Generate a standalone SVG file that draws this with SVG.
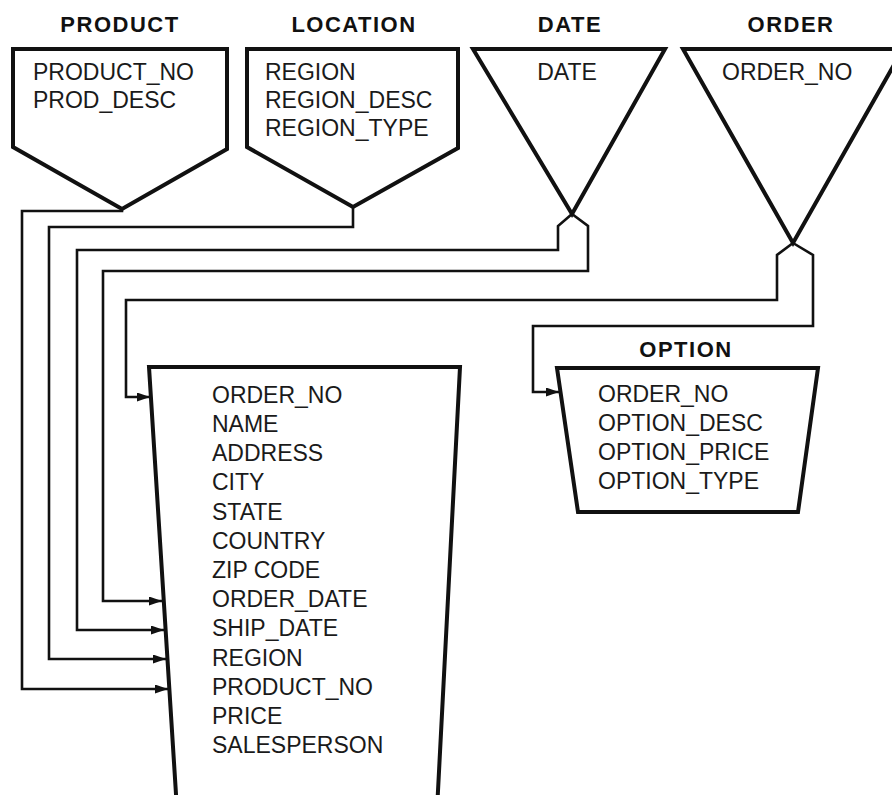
<svg xmlns="http://www.w3.org/2000/svg" width="892" height="795" viewBox="0 0 892 795">
<style>
.t{font-family:"Liberation Sans",Arial,Helvetica,sans-serif;font-size:22px;font-weight:bold;letter-spacing:1.5px;text-anchor:middle;fill:#111}
.f{font-family:"Liberation Sans",Arial,Helvetica,sans-serif;font-size:23px;fill:#1a1a1a}
.s{fill:none;stroke:#111;stroke-width:4;stroke-linejoin:miter}
.c{fill:none;stroke:#111;stroke-width:2.6;stroke-linejoin:miter}
</style>
<defs>
<marker id="ah" markerUnits="userSpaceOnUse" markerWidth="14" markerHeight="10" refX="13" refY="4.5" orient="auto"><path d="M0,0 L13,4.5 L0,9 Z" fill="#111"/></marker>
</defs>
<rect width="892" height="795" fill="#fff"/>

<g id="product">
<text class="t" x="120" y="32">PRODUCT</text>
<path class="s" d="M13,49 L227,49 L227,149 L122,209 L13,147 Z"/>
<text class="f" x="33" y="80">PRODUCT_NO</text>
<text class="f" x="33" y="108">PROD_DESC</text>
</g>

<g id="location">
<text class="t" x="354" y="32">LOCATION</text>
<path class="s" d="M247,49 L458,49 L458,148 L353,207 L247,147 Z"/>
<text class="f" x="265" y="80">REGION</text>
<text class="f" x="265" y="108">REGION_DESC</text>
<text class="f" x="265" y="136">REGION_TYPE</text>
</g>

<g id="date">
<text class="t" x="570" y="32">DATE</text>
<path class="s" d="M473,49 L665,49 L572,214 Z"/>
<text class="f" x="567" y="80" text-anchor="middle">DATE</text>
</g>

<g id="order">
<text class="t" x="791" y="32">ORDER</text>
<path class="s" d="M683,49 L903,49 L793,243 Z"/>
<text class="f" x="722" y="80">ORDER_NO</text>
</g>

<g id="option">
<text class="t" x="686" y="357">OPTION</text>
<path class="s" d="M557,368 L818,368 L798,512 L578,512 Z"/>
<text class="f" x="598" y="402">ORDER_NO</text>
<text class="f" x="598" y="431">OPTION_DESC</text>
<text class="f" x="598" y="460">OPTION_PRICE</text>
<text class="f" x="598" y="489">OPTION_TYPE</text>
</g>

<g id="sales">
<path class="s" d="M149,367 L460,367 L437,810 L177,810 Z"/>
<text class="f" x="212" y="403">ORDER_NO</text>
<text class="f" x="212" y="432">NAME</text>
<text class="f" x="212" y="461">ADDRESS</text>
<text class="f" x="212" y="490">CITY</text>
<text class="f" x="212" y="520">STATE</text>
<text class="f" x="212" y="549">COUNTRY</text>
<text class="f" x="212" y="578">ZIP CODE</text>
<text class="f" x="212" y="607">ORDER_DATE</text>
<text class="f" x="212" y="636">SHIP_DATE</text>
<text class="f" x="212" y="666">REGION</text>
<text class="f" x="212" y="695">PRODUCT_NO</text>
<text class="f" x="212" y="724">PRICE</text>
<text class="f" x="212" y="753">SALESPERSON</text>
</g>

<g id="connectors">
<path class="c" d="M122,209 L122,211 L22,211 L22,689 L168,689" marker-end="url(#ah)"/>
<path class="c" d="M353,207 L353,227 L49,227 L49,659 L166,659" marker-end="url(#ah)"/>
<path class="c" d="M572,214 L558,226 L558,250 L77,250 L77,630 L164,630" marker-end="url(#ah)"/>
<path class="c" d="M572,214 L588,226 L588,271 L103,271 L103,601 L162,601" marker-end="url(#ah)"/>
<path class="c" d="M793,243 L777,255 L777,300 L126,300 L126,397 L150,397" marker-end="url(#ah)"/>
<path class="c" d="M793,243 L813,255 L813,326 L533,326 L533,392 L559,392" marker-end="url(#ah)"/>
</g>
</svg>
